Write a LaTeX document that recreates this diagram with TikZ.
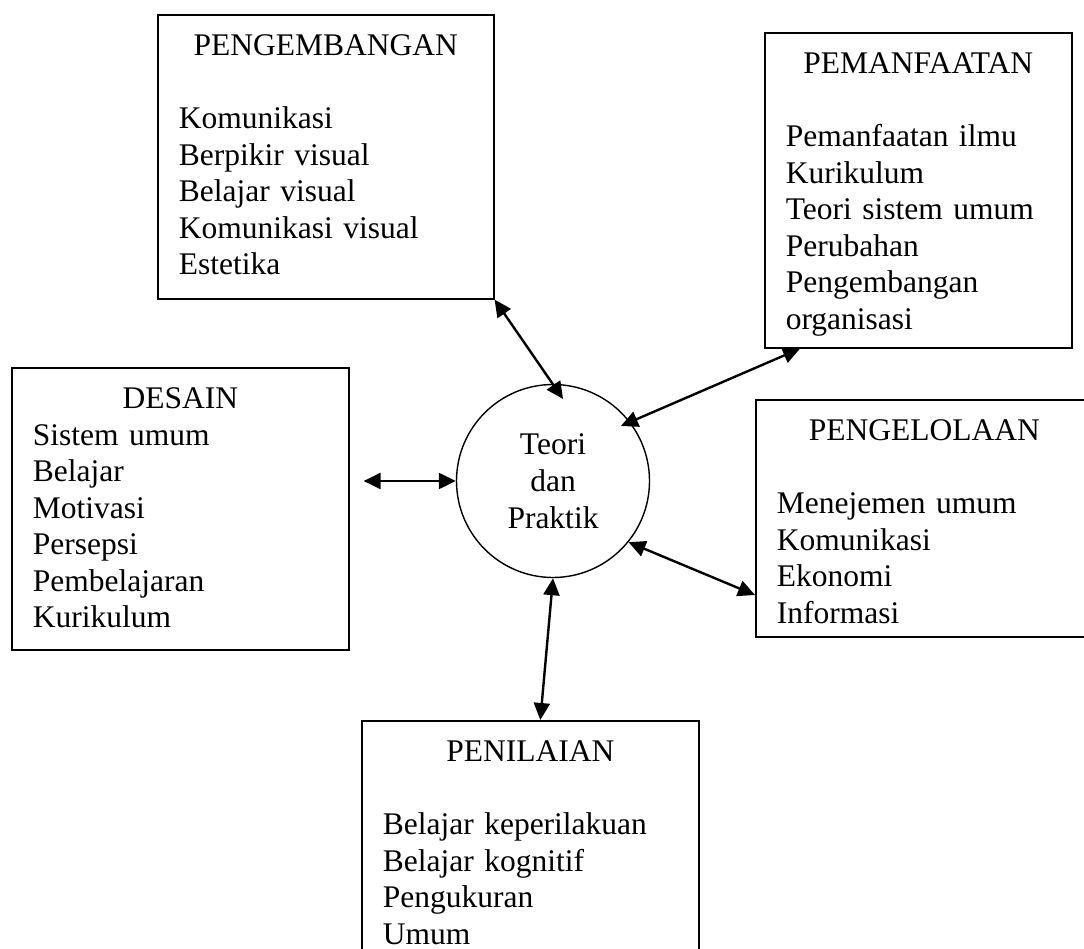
\documentclass[tikz,border=0pt]{standalone}
\usepackage{fontspec}
\setmainfont{Liberation Serif}
\usepackage{tikz}
\usetikzlibrary{arrows.meta,calc}

\begin{document}
\begin{tikzpicture}[
    x=1pt, y=-1pt,
    panel/.style={
      draw,
      line width=1.6pt,
      rectangle,
      anchor=north west,
      inner xsep=21pt,
      inner ysep=0pt,
      text height=41pt,
      align=left,
      font=\fontsize{31.5}{36.5}\selectfont
    },
    hub/.style={
      circle,
      draw,
      line width=1.4pt,
      minimum size=193pt,
      inner sep=0pt,
      align=center,
      font=\fontsize{31.5}{37}\selectfont
    },
    link/.style={{Triangle[length=17pt,width=16pt]}-{Triangle[length=17pt,width=16pt]}, line width=2.4pt}
  ]
    \useasboundingbox (0,0) rectangle (1084,949);

    \node[panel, text width=294pt, text depth=243pt] (pengembangan) at (157,14)
      {\makebox[\linewidth]{PENGEMBANGAN}\\[36.5pt]
       Komunikasi\\Berpikir visual\\Belajar visual\\Komunikasi visual\\Estetika};
    \node[panel, text width=265pt, text depth=274pt] (pemanfaatan) at (764,32)
      {\makebox[\linewidth]{PEMANFAATAN}\\[36.5pt]
       Pemanfaatan ilmu\\Kurikulum\\Teori sistem umum\\Perubahan\\Pengembangan\\organisasi};
    \node[panel, text width=295pt, text depth=241pt] (desain) at (11,367)
      {\makebox[\linewidth]{DESAIN}\\
       Sistem umum\\Belajar\\Motivasi\\Persepsi\\Pembelajaran\\Kurikulum};
    \node[panel, text width=295pt, text depth=196pt] (pengelolaan) at (755,399)
      {\makebox[\linewidth]{PENGELOLAAN}\\[36.5pt]
       Menejemen umum\\Komunikasi\\Ekonomi\\Informasi};
    \node[panel, text width=295pt, text depth=204pt] (penilaian) at (361,720)
      {\makebox[\linewidth]{PENILAIAN}\\[36.5pt]
       Belajar keperilakuan\\Belajar kognitif\\Pengukuran\\Umum};

    \node[hub] (teori) at (553,481) {Teori\\dan\\Praktik};

    \coordinate (desainend) at ($(desain.east |- teori.west)+(14,0)$);
    \coordinate (pemanfaatanend) at ($(pemanfaatan.south west)+(36,0)$);
    \coordinate (pengelolaanend) at ($(pengelolaan.north west)+(0,196)$);
    \coordinate (penilaianend) at ($(penilaian.north)+(10,0)$);

    \draw[link] (pengembangan.south east) -- ($(teori.center)!0.85!(teori.83)$);
    \draw[link] (pemanfaatanend) -- ($(teori.center)!0.9!(teori.39)$);
    \draw[link] (desainend) -- (teori.west);
    \draw[link] (teori.-39) -- (pengelolaanend);
    \draw[link] (teori.south) -- (penilaianend);
  \end{tikzpicture}
\end{document}
